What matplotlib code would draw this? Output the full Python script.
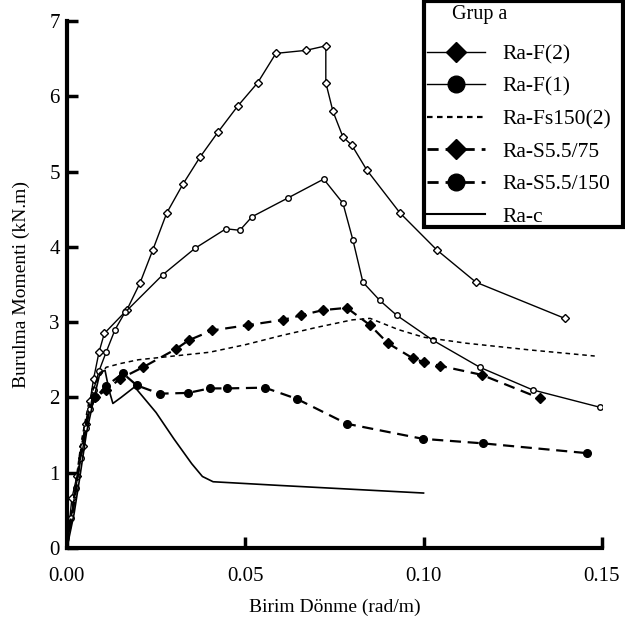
import matplotlib.pyplot as plt
from matplotlib.lines import Line2D
from matplotlib.patches import Rectangle

plt.rcParams['font.family'] = ['Liberation Serif', 'DejaVu Serif']

# Ra-F(2)
f2_x = [0, 0.0014, 0.0028, 0.0045, 0.0055, 0.0065, 0.0075, 0.009, 0.0105, 0.0168, 0.0205, 0.0241,
        0.028, 0.0325, 0.0373, 0.0423, 0.0479, 0.0535, 0.0586, 0.067, 0.0726, 0.0726, 0.0746,
        0.0774, 0.0799, 0.0841, 0.0934, 0.1037, 0.1147, 0.1396]
f2_y = [0, 0.66, 0.95, 1.35, 1.65, 1.95, 2.25, 2.6, 2.85, 3.16, 3.52, 3.96,
        4.45, 4.83, 5.19, 5.52, 5.87, 6.18, 6.57, 6.61, 6.67, 6.18, 5.80,
        5.46, 5.35, 5.02, 4.45, 3.96, 3.53, 3.05]

# Ra-F(1)
f1_x = [0, 0.0012, 0.0025, 0.004, 0.0055, 0.0065, 0.0075, 0.009, 0.011, 0.0135, 0.0163, 0.0269,
        0.0359, 0.0446, 0.0485, 0.0519, 0.062, 0.072, 0.0774, 0.0802, 0.083, 0.0877, 0.0925,
        0.1026, 0.1158, 0.1306, 0.1494]
f1_y = [0, 0.4, 0.8, 1.2, 1.6, 1.85, 2.1, 2.35, 2.6, 2.9, 3.13, 3.63,
        3.98, 4.24, 4.22, 4.40, 4.65, 4.90, 4.58, 4.09, 3.53, 3.29, 3.09,
        2.76, 2.40, 2.10, 1.87]

# Ra-Fs150(2)
fs_x = [0, 0.002, 0.004, 0.006, 0.008, 0.011, 0.015, 0.02, 0.03, 0.04, 0.05, 0.06, 0.07, 0.08,
        0.085, 0.093, 0.1, 0.112, 0.13, 0.148]
fs_y = [0, 0.7, 1.4, 1.9, 2.2, 2.4, 2.45, 2.5, 2.55, 2.6, 2.7, 2.82, 2.93, 3.03,
        3.05, 2.9, 2.8, 2.72, 2.63, 2.55]

# Ra-S5.5/75
s75_x = [0, 0.002, 0.004, 0.006, 0.008, 0.011, 0.015, 0.0213, 0.0305, 0.0342, 0.0407, 0.0507,
         0.0606, 0.0656, 0.0718, 0.0785, 0.085, 0.090, 0.097, 0.100, 0.1046, 0.1163, 0.1326]
s75_y = [0, 0.6, 1.3, 1.8, 2.0, 2.1, 2.25, 2.40, 2.64, 2.76, 2.89, 2.96,
         3.03, 3.09, 3.16, 3.19, 2.96, 2.72, 2.52, 2.47, 2.42, 2.30, 1.99]

# Ra-S5.5/150
s150_x = [0, 0.002, 0.004, 0.006, 0.008, 0.011, 0.0157, 0.0196, 0.026, 0.034, 0.040, 0.045,
          0.0555, 0.0645, 0.0785, 0.0998, 0.1166, 0.1458]
s150_y = [0, 0.6, 1.3, 1.8, 2.0, 2.15, 2.32, 2.16, 2.05, 2.06, 2.12, 2.12,
          2.13, 1.98, 1.65, 1.45, 1.39, 1.26]

# Ra-c
c_x = [0, 0.002, 0.0035, 0.0055, 0.0075, 0.0093, 0.0107, 0.0118, 0.0129, 0.0152, 0.019, 0.025,
       0.03, 0.035, 0.038, 0.041, 0.06, 0.08, 0.1]
c_y = [0, 0.45, 0.9, 1.53, 1.97, 2.33, 2.36, 2.1, 1.92, 2.0, 2.14, 1.8,
       1.45, 1.12, 0.95, 0.88, 0.83, 0.78, 0.73]

x_ticks = [0.0, 0.05, 0.10, 0.15]
x_labels = ['0.00', '0.05', '0.10', '0.15']
y_ticks = [0, 1, 2, 3, 4, 5, 6, 7]

fig = plt.figure(figsize=(6.25, 6.27), dpi=100)
ax = fig.add_axes([0.107, 0.126, 0.856, 0.8405])

ax.plot(f2_x, f2_y, color='black', lw=1, marker='D', ms=4, mfc='white', mew=1, markevery=slice(1, None))
ax.plot(f1_x, f1_y, color='black', lw=1, marker='o', ms=4, mfc='white', mew=1, markevery=slice(1, None))
ax.plot(fs_x, fs_y, color='black', lw=1.1, dashes=(3, 2.5))
ax.plot(s75_x, s75_y, color='black', lw=1.6, dashes=(5, 3), marker='D', ms=5.5, markevery=slice(4, None))
ax.plot(s150_x, s150_y, color='black', lw=1.6, dashes=(5, 3), marker='o', ms=5.5, markevery=slice(4, None))
ax.plot(c_x, c_y, color='black', lw=1.2)

ax.set_xlim(0, 0.15)
ax.set_ylim(0, 7)
ax.set_xticks(x_ticks)
ax.set_xticklabels(x_labels)
ax.set_yticks(y_ticks)
ax.tick_params(direction='in', length=8, width=2.5, labelsize=15)
ax.tick_params(axis='x', pad=14)
ax.tick_params(axis='y', pad=5)
for side in ['top', 'right']:
    ax.spines[side].set_visible(False)
for side in ['left', 'bottom']:
    ax.spines[side].set_linewidth(3)

ax.set_xlabel('Birim Dönme (rad/m)', fontsize=14, labelpad=9)
ax.set_ylabel('Burulma Momenti (kN.m)', fontsize=14, labelpad=14)

# legend box drawn in figure coordinates
fig.patches.append(Rectangle((424 / 625, 1 - 227 / 627), 199 / 625, 226 / 627,
                             transform=fig.transFigure, fill=True, facecolor='white',
                             edgecolor='black', lw=3, zorder=5))
fig.text(480 / 625, 1 - 15 / 627, 'Grup a', fontsize=14.5, ha='center', va='center', zorder=6)

handles = [
    Line2D([], [], color='black', lw=1, marker='D', ms=10),
    Line2D([], [], color='black', lw=1, marker='o', ms=12),
    Line2D([], [], color='black', lw=1.6, dashes=(2.5, 2)),
    Line2D([], [], color='black', lw=2, dashes=(4, 2.5), marker='D', ms=10),
    Line2D([], [], color='black', lw=2, dashes=(4, 2.5), marker='o', ms=12),
    Line2D([], [], color='black', lw=1.5),
]
labels = ['Ra-F(2)', 'Ra-F(1)', 'Ra-Fs150(2)', 'Ra-S5.5/75', 'Ra-S5.5/150', 'Ra-c']
leg = fig.legend(handles, labels, loc='upper left', bbox_to_anchor=(427 / 625, 1 - 44 / 627),
                 frameon=False, fontsize=15.5, handlelength=2.7, handletextpad=0.8,
                 labelspacing=0.58, borderpad=0, borderaxespad=0)
leg.set_zorder(7)

fig.savefig('out.png', dpi=100)
